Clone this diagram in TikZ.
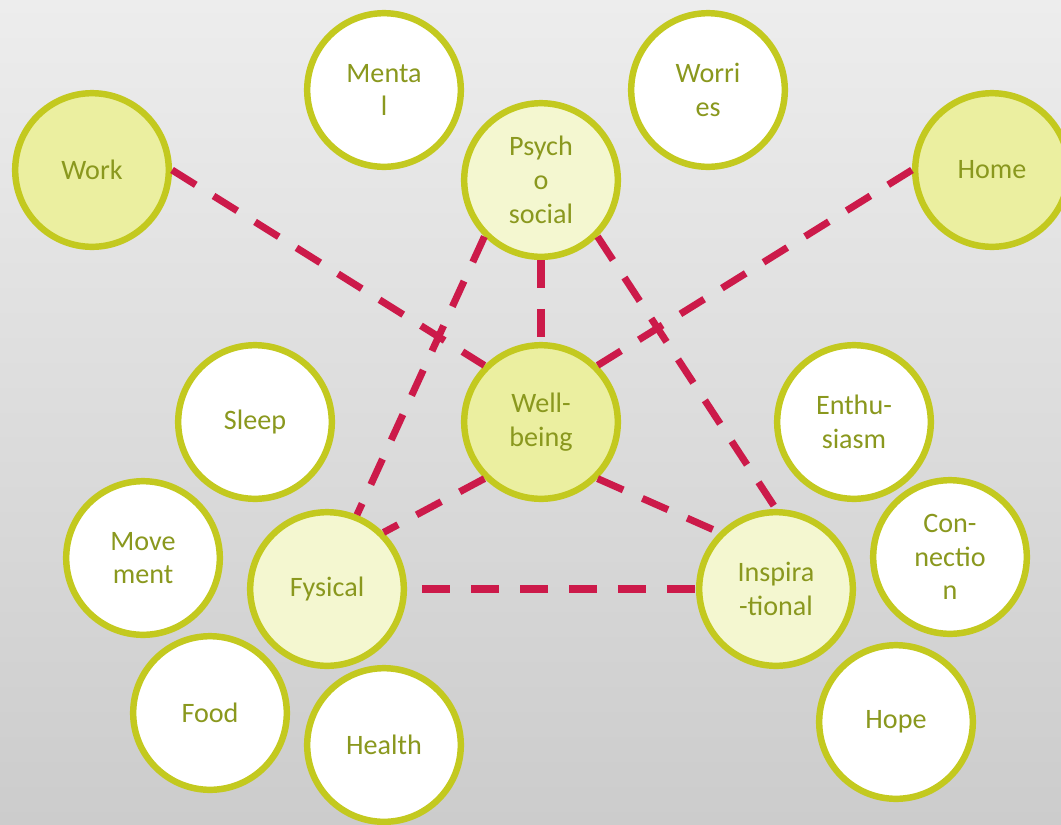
\documentclass[tikz,border=0pt]{standalone}
\usepackage{fontspec}
\setmainfont{Carlito}
\usetikzlibrary{positioning}

\definecolor{ring}{RGB}{195,201,31}
\definecolor{textolive}{RGB}{138,152,30}
\definecolor{filldark}{RGB}{235,239,160}
\definecolor{filllight}{RGB}{244,247,208}
\definecolor{linkred}{RGB}{204,26,74}

\begin{document}
\begin{tikzpicture}[x=0.025cm,y=-0.025cm,
    main node/.style={circle,draw=ring,line width=4.6pt,minimum size=3.84cm,inner sep=0pt,
        align=center,text=textolive,font=\fontsize{20}{24}\selectfont},
    outer node/.style={main node,fill=white},
    core node/.style={main node,fill=filldark},
    area node/.style={main node,fill=filllight},
    link/.style={draw=linkred,line width=5pt,dash pattern=on 19.9pt off 14.9pt}]

    \useasboundingbox (0,0) rectangle (1061,824);
    \clip (0,0) rectangle (1061,824);
    \shade[top color={rgb,255:red,237;green,237;blue,237},bottom color={rgb,255:red,204;green,204;blue,204}]
        (0,0) rectangle (1061,824);

    \node[core node] (1) at (92,170) {Work};
    \node[core node] (2) at (992,170) {Home};
    \node[outer node] (7) at (384,90) {Menta\\l};
    \node[outer node] (8) at (708,90) {Worri\\es};
    \node[area node] (3) at (541,180) {Psych\\o\\social};
    \node[core node] (4) at (541,422) {Well-\\being};
    \node[outer node] (9) at (255,422) {Sleep};
    \node[outer node] (10) at (854,422) {Enthu-\\siasm};
    \node[outer node] (11) at (143,558) {Move\\ment};
    \node[area node] (5) at (327,589) {Fysical};
    \node[area node] (6) at (776,589) {Inspira\\-tional};
    \node[outer node] (12) at (950,557) {Con-\\nectio\\n};
    \node[outer node] (13) at (210,713) {Food};
    \node[outer node] (14) at (384,745) {Health};
    \node[outer node] (15) at (896,722) {Hope};

    % dashed links between the main circles
    \path[link] (1.east) -- (4.north west);
    \path[link] (2.west) -- (4.north east);
    \path[link] (3.south) -- (4.north);
    \path[link] (3.south west) -- (5.68);
    \path[link] (3.south east) -- (6.north);
    \path[link] (4.south west) -- (5.north east);
    \path[link] (4.south east) -- (6.north west);
    \path[link,dash phase=24pt] (5.east) -- (6.west);
\end{tikzpicture}
\end{document}
